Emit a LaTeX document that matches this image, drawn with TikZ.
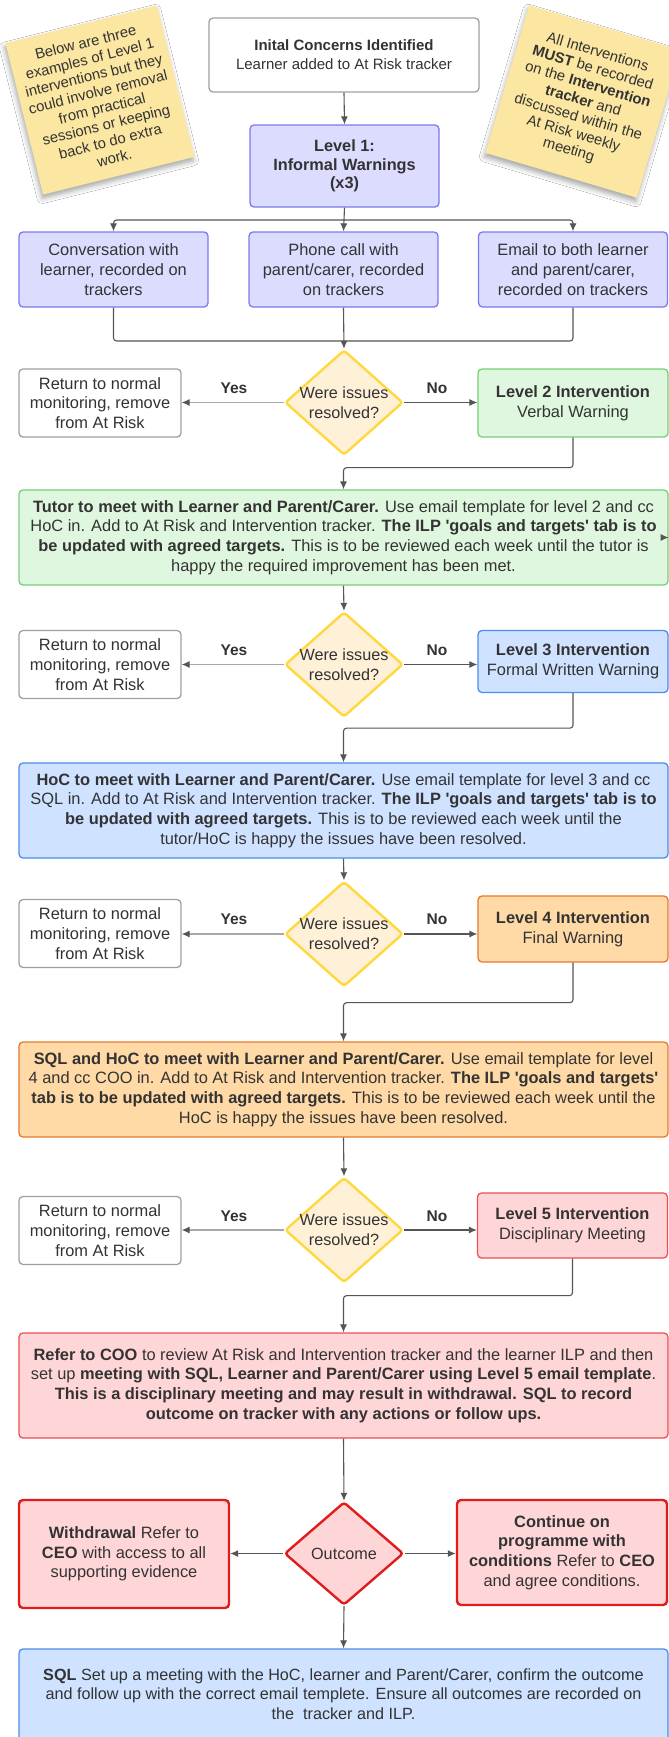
\documentclass[tikz,border=0pt]{standalone}
\usepackage{fontspec}
\setmainfont{Liberation Sans}
\usetikzlibrary{shapes.geometric,arrows.meta,shadows.blur,calc}
\definecolor{textc}{HTML}{333333}
\definecolor{linec}{HTML}{555555}
\definecolor{yesc}{HTML}{A8A8A8}
\definecolor{grayb}{HTML}{A0A0A0}
\definecolor{lavf}{HTML}{DCDCFF}
\definecolor{lavb}{HTML}{7A7AF2}
\definecolor{diaf}{HTML}{FFF0D8}
\definecolor{diab}{HTML}{FFD83D}
\definecolor{grnf}{HTML}{E0F7DF}
\definecolor{grnb}{HTML}{78CF78}
\definecolor{bluf}{HTML}{CFE2FF}
\definecolor{blub}{HTML}{4A8FEE}
\definecolor{orgf}{HTML}{FFD9A6}
\definecolor{orgb}{HTML}{E57A2E}
\definecolor{redf}{HTML}{FFD6D7}
\definecolor{redb}{HTML}{EE5050}
\definecolor{redt}{HTML}{E01C1C}
\definecolor{notef}{HTML}{FBE7A1}
\newcommand{\squote}{\textquotesingle}
\tikzset{
  base/.style={draw, rounded corners=4pt, align=center, inner sep=0pt, line width=1.3pt, text=textc,
    font=\fontsize{16.4}{19.7}\selectfont},
  plainbox/.style={base, draw=grayb, fill=white},
  lavbox/.style={base, draw=lavb, fill=lavf},
  grnbox/.style={base, draw=grnb, fill=grnf},
  blubox/.style={base, draw=blub, fill=bluf},
  orgbox/.style={base, draw=orgb, fill=orgf},
  redbox/.style={base, draw=redb, fill=redf},
  redthick/.style={base, draw=redt, fill=redf, line width=2.4pt},
  retbox/.style={plainbox, minimum width=162pt, minimum height=68pt},
  lvlbox/.style={minimum width=190pt},
  bigbox/.style={minimum width=649pt},
  dia/.style={diamond, draw=diab, fill=diaf, line width=2.4pt, inner sep=0pt, rounded corners=3pt,
    minimum width=118pt, minimum height=105pt},
  dtext/.style={align=center, inner sep=0pt, text=textc, font=\fontsize{16.2}{19.7}\selectfont},
  lab/.style={inner sep=0pt, text=textc, font=\fontsize{15.5}{18}\selectfont\bfseries},
  note/.style={fill=notef, align=center, inner sep=0pt, text=textc,
    font=\fontsize{14.8}{17}\selectfont,
    blur shadow={shadow xshift=-1pt, shadow yshift=-4pt, shadow blur radius=5pt, shadow opacity=35}},
  conn/.style={draw=linec, line width=1.1pt, rounded corners=3pt},
  arr/.style={conn, -{Latex[length=8pt,width=7pt]}},
  yarr/.style={draw=yesc, line width=1.1pt, -{Latex[length=8pt,width=7pt,color=linec]}}
}
\begin{document}
\begin{tikzpicture}[x=1pt,y=-1pt]
\useasboundingbox (0,0) rectangle (669,1737);
\clip (0,0) rectangle (669,1737);
\fill[white] (0,0) rectangle (669,1737);

% sticky notes
\node[note, rotate=14, minimum width=156pt, minimum height=156pt] (nl) at (100,100)
  {Below are three\\examples of Level 1\\interventions but they\\could involve removal\\from practical\\sessions or keeping\\back to do extra\\work.};
\node[note, rotate=-16.5, minimum width=158pt, minimum height=154pt] (nr) at (583,101.5)
  {All Interventions\\\textbf{MUST} be recorded\\on the \textbf{Intervention}\\\textbf{tracker} and\\discussed within the\\At Risk weekly\\meeting};

% top part
\node[plainbox, minimum width=270pt, minimum height=74pt, font=\fontsize{15}{19}\selectfont] (top) at (344,55)
  {\textbf{Inital Concerns Identified}\\Learner added to At Risk tracker};
\node[lavbox, minimum width=189pt, minimum height=82pt, font=\fontsize{16.3}{18.5}\selectfont\bfseries] (L1) at (344.5,166)
  {Level 1:\\Informal Warnings\\(x3)};
\node[lavbox, minimum width=189pt, minimum height=75pt] (b1) at (113.5,269.5)
  {Conversation with\\learner, recorded on\\trackers};
\node[lavbox, minimum width=189pt, minimum height=75pt] (b2) at (343.5,269.5)
  {Phone call with\\parent/carer, recorded\\on trackers};
\node[lavbox, minimum width=189pt, minimum height=75pt] (b3) at (573,269.5)
  {Email to both learner\\and parent/carer,\\recorded on trackers};

% level 2
\node[dia] (d1) at (344,402.5) {};
\node[dtext] (d1t) at (d1.center) {Were issues\\resolved?};
\node[retbox] (r1) at (100,403) {Return to normal\\monitoring, remove\\from At Risk};
\node[grnbox, lvlbox, minimum height=68pt] (L2) at (573,403) {\textbf{Level 2 Intervention}\\Verbal Warning};
\node[lab] (y1) at (234,388) {Yes};
\node[lab] (n1) at (437,388) {No};
\node[grnbox, bigbox, minimum height=95pt] (G) at (343.5,537.5)
  {\textbf{Tutor to meet with Learner and Parent/Carer.} Use email template for level 2 and cc\\
   HoC in. Add to At Risk and Intervention tracker. \textbf{The ILP \squote goals and targets\squote\ tab is to}\\
   \textbf{be updated with agreed targets.} This is to be reviewed each week until the tutor is\\
   happy the required improvement has been met.};

% level 3
\node[dia] (d2) at (344,664.5) {};
\node[dtext] (d2t) at (d2.center) {Were issues\\resolved?};
\node[retbox] (r2) at (100,664.5) {Return to normal\\monitoring, remove\\from At Risk};
\node[blubox, lvlbox, minimum height=62pt] (L3) at (573,661.5) {\textbf{Level 3 Intervention}\\Formal Written Warning};
\node[lab] (y2) at (234,650) {Yes};
\node[lab] (n2) at (437,650) {No};
\node[blubox, bigbox, minimum height=95pt] (B) at (343.5,810.5)
  {\textbf{HoC to meet with Learner and Parent/Carer.} Use email template for level 3 and cc\\
   SQL in. Add to At Risk and Intervention tracker. \textbf{The ILP \squote goals and targets\squote\ tab is to}\\
   \textbf{be updated with agreed targets.} This is to be reviewed each week until the\\
   tutor/HoC is happy the issues have been resolved.};

% level 4
\node[dia] (d3) at (344,934) {};
\node[dtext] (d3t) at (d3.center) {Were issues\\resolved?};
\node[retbox] (r3) at (100,933.5) {Return to normal\\monitoring, remove\\from At Risk};
\node[orgbox, lvlbox, minimum height=66pt] (L4) at (573,929) {\textbf{Level 4 Intervention}\\Final Warning};
\node[lab] (y3) at (234,919.5) {Yes};
\node[lab] (n3) at (437,919.5) {No};
\node[orgbox, bigbox, minimum height=95pt] (O) at (343.5,1089.5)
  {\textbf{SQL and HoC to meet with Learner and Parent/Carer.} Use email template for level\\
   4 and cc COO in. Add to At Risk and Intervention tracker. \textbf{The ILP \squote goals and targets\squote}\\
   \textbf{tab is to be updated with agreed targets.} This is to be reviewed each week until the\\
   HoC is happy the issues have been resolved.};

% level 5
\node[dia] (d4) at (344,1230) {};
\node[dtext] (d4t) at (d4.center) {Were issues\\resolved?};
\node[retbox] (r4) at (100,1230.5) {Return to normal\\monitoring, remove\\from At Risk};
\node[redbox, lvlbox, minimum height=65pt] (L5) at (572.5,1225.5) {\textbf{Level 5 Intervention}\\Disciplinary Meeting};
\node[lab] (y4) at (234,1216.5) {Yes};
\node[lab] (n4) at (437,1216.5) {No};
\node[redbox, bigbox, minimum height=105pt] (R) at (343.5,1385.5)
  {\textbf{Refer to COO} to review At Risk and Intervention tracker and the learner ILP and then\\
   set up \textbf{meeting with SQL, Learner and Parent/Carer using Level 5 email template}.\\
   \textbf{This is a disciplinary meeting and may result in withdrawal. SQL to record}\\
   \textbf{outcome on tracker with any actions or follow ups.}};

% outcome
\node[dia, draw=redt, fill=redf, minimum width=119pt, minimum height=103pt] (oc) at (344,1553.5) {};
\node[dtext] (oct) at (oc.center) {Outcome};
\node[redthick, minimum width=210pt, minimum height=108pt] (W) at (124,1554)
  {\textbf{Withdrawal} Refer to\\\textbf{CEO} with access to all\\supporting evidence};
\node[redthick, minimum width=210pt, minimum height=105pt] (C) at (562,1552.5)
  {\textbf{Continue on}\\\textbf{programme with}\\\textbf{conditions} Refer to \textbf{CEO}\\and agree conditions.};
\node[blubox, bigbox, minimum height=96pt] (F) at (343.5,1697) {};
\node[dtext] (Ft) at (343.5,1694)
  {\textbf{SQL} Set up a meeting with the HoC, learner and Parent/Carer, confirm the outcome\\
   and follow up with the correct email templete. Ensure all outcomes are recorded on\\
   the\ \ tracker and ILP.};

% connectors
\draw[arr] (top.south) -- (L1.north);
\coordinate (br) at (344,220);
\draw[conn] (L1.south) -- (br);
\draw[arr] (br) -| (b1.north);
\draw[arr] (br) -| (b3.north);
\draw[arr] (br) -- (b2.north);
\coordinate (mg) at (344,341);
\draw[conn] (b1.south) |- (mg);
\draw[conn] (b3.south) |- (mg);
\draw[arr] (b2.south) -- (d1.north);

\draw[yarr] (d1.west) -- (d1.west -| r1.east);
\draw[arr] (d1.east) -- (d1.east -| L2.west);
\draw[arr] (L2.south) -- ++(0,30) -| (G.north);
\coordinate (gs) at (661,537.5);
\draw[arr] (gs) -- (G.east);
\draw[arr] (G.south) -- (d2.north);

\draw[yarr] (d2.west) -- (d2.west -| r2.east);
\draw[arr] (d2.east) -- (d2.east -| L3.west);
\draw[arr] (L3.south) -- ++(0,35) -| (B.north);
\draw[arr] (B.south) -- (d3.north);

\draw[yarr] (d3.west) -- (d3.west -| r3.east);
\draw[arr] (d3.east) -- (d3.east -| L4.west);
\draw[arr] (L4.south) -- ++(0,40) -| (O.north);
\draw[arr] (O.south) -- (d4.north);

\draw[yarr] (d4.west) -- (d4.west -| r4.east);
\draw[arr] (d4.east) -- (d4.east -| L5.west);
\draw[arr] (L5.south) -- ++(0,37) -| (R.north);
\draw[arr] (R.south) -- (oc.north);

\draw[arr] (oc.west) -- (oc.west -| W.east);
\draw[arr] (oc.east) -- (oc.east -| C.west);
\draw[arr] (oc.south) -- (F.north);
\end{tikzpicture}
\end{document}
